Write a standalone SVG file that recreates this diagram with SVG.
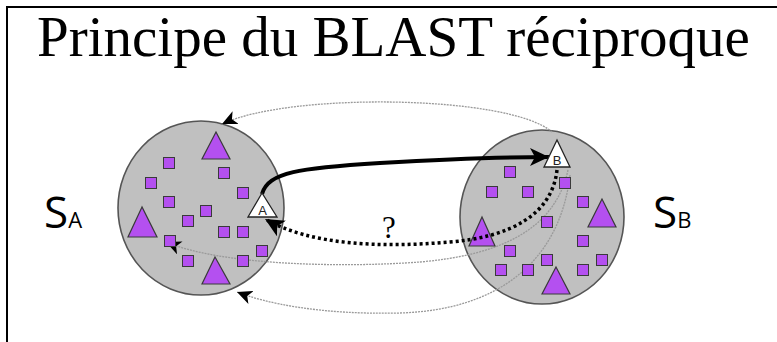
<svg xmlns="http://www.w3.org/2000/svg" width="777" height="342" viewBox="0 0 777 342">
<style>
.set{fill:#c0c0c0;stroke:#555;stroke-width:1.6}
.sq{fill:#b450f0;stroke:#3a3a3a;stroke-width:1}
.tri{fill:#b450f0;stroke:#3a3a3a;stroke-width:1.2}
.wtri{fill:#fff;stroke:#222;stroke-width:1.3}
.thin{fill:none;stroke:#9a9a9a;stroke-width:1.3;stroke-dasharray:2 1}
.title{font-family:"Liberation Serif","Times New Roman",serif;font-size:57px;fill:#000}
.lbl{font-family:"Open Sans","DejaVu Sans",sans-serif;fill:#000}
.tl{font-family:"Liberation Sans",Arial,sans-serif;font-size:13px;fill:#222;text-anchor:middle}
</style>
<defs>
<marker id="bar" markerUnits="userSpaceOnUse" markerWidth="16" markerHeight="14" refX="15" refY="7" orient="auto">
<path d="M0,0 L15,7 L0,14 L4,7 z" fill="#000"/>
</marker>
<marker id="big" markerUnits="userSpaceOnUse" markerWidth="20" markerHeight="18" refX="19" refY="9" orient="auto">
<path d="M0,0 L19,9 L0,18 L5,9 z" fill="#000"/>
</marker>
</defs>
<rect width="777" height="342" fill="#fff"/>
<path d="M7,342 V7 H777" fill="none" stroke="#000" stroke-width="2"/>
<text class="title" x="37" y="56">Principe du BLAST réciproque</text>

<g id="setA-circle"><ellipse class="set" cx="201" cy="208" rx="83" ry="87"/></g>
<g id="setB-circle"><ellipse class="set" cx="542" cy="217" rx="82" ry="87"/></g>

<g id="connectors">
<path class="thin" d="M552,132 C510,95 290,92 222,124" marker-end="url(#bar)"/>
<path class="thin" d="M568,170 C555,230 500,255 420,262 C340,268 220,265 166,242" marker-end="url(#bar)"/>
<path class="thin" d="M570,175 C560,260 500,310 400,313 C320,315 265,303 237,292" marker-end="url(#bar)"/>
</g>

<g id="setA">
<rect class="sq" x="163.5" y="157.5" width="11" height="11"/>
<rect class="sq" x="218.5" y="167.5" width="11" height="11"/>
<rect class="sq" x="145.5" y="177.5" width="11" height="11"/>
<rect class="sq" x="237.5" y="187.5" width="11" height="11"/>
<rect class="sq" x="163.5" y="196.5" width="11" height="11"/>
<rect class="sq" x="200.5" y="205.5" width="11" height="11"/>
<rect class="sq" x="182.5" y="215.5" width="11" height="11"/>
<rect class="sq" x="218.5" y="226.5" width="11" height="11"/>
<rect class="sq" x="237.5" y="226.5" width="11" height="11"/>
<rect class="sq" x="164.5" y="235.5" width="11" height="11"/>
<rect class="sq" x="256.5" y="245.5" width="11" height="11"/>
<rect class="sq" x="182.5" y="255.5" width="11" height="11"/>
<rect class="sq" x="237.5" y="255.5" width="11" height="11"/>
<polygon class="tri" points="216,132 202,159 230,159"/>
<polygon class="tri" points="142,207 128,237 157,237"/>
<polygon class="tri" points="215,257 202,284 230,284"/>
</g>

<g id="setB">
<rect class="sq" x="504.5" y="166.5" width="11" height="11"/>
<rect class="sq" x="559.5" y="177.5" width="11" height="11"/>
<rect class="sq" x="486.5" y="186.5" width="11" height="11"/>
<rect class="sq" x="522.5" y="186.5" width="11" height="11"/>
<rect class="sq" x="577.5" y="196.5" width="11" height="11"/>
<rect class="sq" x="541.5" y="216.5" width="11" height="11"/>
<rect class="sq" x="577.5" y="235.5" width="11" height="11"/>
<rect class="sq" x="504.5" y="245.5" width="11" height="11"/>
<rect class="sq" x="541.5" y="254.5" width="11" height="11"/>
<rect class="sq" x="596.5" y="254.5" width="11" height="11"/>
<rect class="sq" x="495.5" y="264.5" width="11" height="11"/>
<rect class="sq" x="522.5" y="264.5" width="11" height="11"/>
<rect class="sq" x="577.5" y="264.5" width="11" height="11"/>
<polygon class="tri" points="482,217 469,246 495,246"/>
<polygon class="tri" points="602,199 588,227 616,227"/>
<polygon class="tri" points="556,267 542,294 570,294"/>
</g>

<g id="arrows">
<path d="M262,194 C268,172 300,168 380,163 C450,159 500,157 549,157" fill="none" stroke="#000" stroke-width="4" marker-end="url(#big)"/>
<path d="M557,170 C552,215 510,237 450,242 C380,248 310,245 265,219" fill="none" stroke="#000" stroke-width="3.5" stroke-dasharray="3 3" marker-end="url(#big)"/>
<text x="389" y="238" font-family="Liberation Serif,serif" font-size="31" text-anchor="middle">?</text>
</g>

<g id="nodeA">
<polygon class="wtri" points="262,193 248,217 277,217"/>
<text class="tl" x="262.5" y="214.5">A</text>
</g>
<g id="nodeB">
<polygon class="wtri" points="557,140 544,167 570,167"/>
<text class="tl" x="557" y="164.5">B</text>
</g>

<g id="labelSA">
<text class="lbl" x="44" y="228" font-size="44">S<tspan font-size="22">A</tspan></text>
</g>
<g id="labelSB">
<text class="lbl" x="653" y="228" font-size="44">S<tspan font-size="22">B</tspan></text>
</g>
</svg>
